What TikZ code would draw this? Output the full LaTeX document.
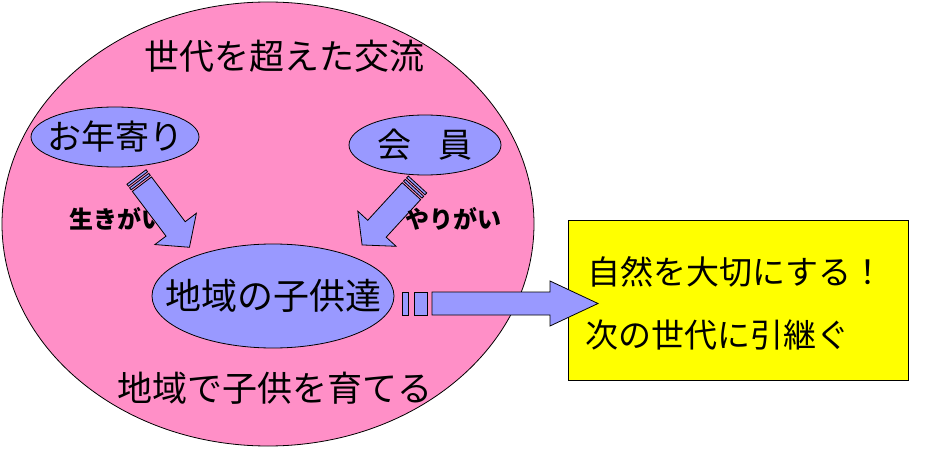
\documentclass[tikz,border=0pt]{standalone}
\usepackage{fontspec}
\newfontfamily\jp{Noto Sans CJK JP}
\usetikzlibrary{shapes.geometric}

\definecolor{pinkfill}{HTML}{FF8FC7}
\definecolor{bluefill}{HTML}{9999FF}
\definecolor{yellowfill}{HTML}{FFFF00}

\tikzstyle{oval} = [ellipse,draw=black,fill=bluefill,inner sep=0pt,line width=0.8pt]
\tikzstyle{jtext} = [inner sep=0pt,font=\jp\fontsize{35}{40}\selectfont]
\tikzstyle{smalltext} = [inner sep=0pt,font=\jp\bfseries\fontsize{24}{28}\selectfont]
\tikzstyle{barrow} = [fill=bluefill,draw=black,line width=0.8pt,line join=miter]

\begin{document}
\begin{tikzpicture}[x=1pt,y=1pt]
		\useasboundingbox[fill=white] (0,0) rectangle (935,448);
		% big circle
		\node[ellipse,draw=black,fill=pinkfill,line width=0.8pt,inner sep=0pt,
			minimum width=532,minimum height=444] (circle) at (268,224) {};
		\node[jtext] (title) at (284,392) {世代を超えた交流};
		\node[jtext] (bottom) at (275,60) {地域で子供を育てる};
		% ovals
		\node[oval,minimum width=168,minimum height=60] (elder) at (115,311) {};
		\node[oval,minimum width=152,minimum height=60] (member) at (425,303) {};
		\node[oval,minimum width=242,minimum height=104] (kids) at (273,152) {};
		\node[jtext,font=\jp\fontsize{34}{40}\selectfont] (elderlabel) at (elder.center) {お年寄り};
		\node[jtext,font=\jp\fontsize{34}{40}\selectfont] (memberlabel) at (member.center) {会\hspace{28pt}員};
		\node[jtext,font=\jp\fontsize{36}{40}\selectfont] (kidslabel) at (kids.center) {地域の子供達};
		\node[smalltext] (ikigai) at (117,229) {生きがい};
		% yellow box
		\node[draw=black,fill=yellowfill,line width=0.8pt,minimum width=340,minimum height=160] (goal) at (738,148) {};
		\node[jtext,font=\jp\fontsize{33}{38}\selectfont,anchor=west] (line1) at (587,176) {自然を大切にする！};
		\node[jtext,font=\jp\fontsize{33}{38}\selectfont,anchor=west] (line2) at (585,113) {次の世代に引継ぐ};
		% arrows
		\begin{scope}[shift={(136.5,271)},rotate=-53]
			\draw[barrow] (0,-12) rectangle (2.5,12);
			\draw[barrow] (4.5,-12) rectangle (7,12);
			\draw[barrow] (9,-12) -- (65,-12) -- (65,-26) -- (88,0) -- (65,26) -- (65,12) -- (9,12) -- cycle;
		\end{scope}
		\begin{scope}[shift={(417.5,263.5)},rotate=-132.5]
			\draw[barrow] (0,-12.5) rectangle (2.5,12.5);
			\draw[barrow] (4.5,-12.5) rectangle (7,12.5);
			\draw[barrow] (9,-12.5) -- (60,-12.5) -- (60,-26) -- (82,0) -- (60,26) -- (60,12.5) -- (9,12.5) -- cycle;
		\end{scope}
		\begin{scope}[shift={(402,144.5)}]
			\draw[barrow] (0,-11.5) rectangle (6,11.5);
			\draw[barrow] (12,-11.5) rectangle (25,11.5);
			\draw[barrow] (30,-11.5) -- (148,-11.5) -- (148,-22.5) -- (196,0) -- (148,22.5) -- (148,11.5) -- (30,11.5) -- cycle;
		\end{scope}
		\node[smalltext] (yarigai) at (453,229) {やりがい};
\end{tikzpicture}
\end{document}
